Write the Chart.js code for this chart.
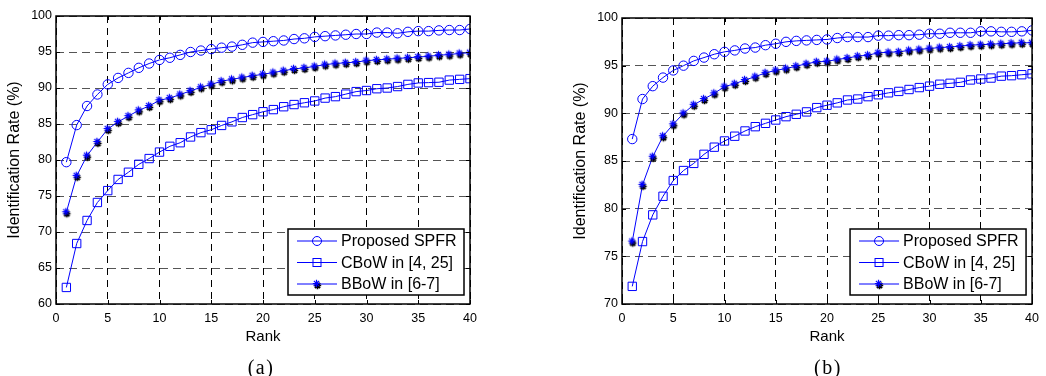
<!DOCTYPE html>
<html>
<head>
<meta charset="utf-8">
<script src="https://cdn.jsdelivr.net/npm/chart.js@4.4.1/dist/chart.umd.min.js"></script>
<style>
  body { margin: 0; background: #fff; width: 1046px; height: 376px; position: relative; overflow: hidden; }
  canvas { position: absolute; top: 0; }
  #chartA { left: 0; }
  #chartB { left: 523px; }
  .cap { position: absolute; top: 356px; line-height: 22px; font: 20px "Liberation Serif", serif; letter-spacing: 1.5px; transform: translateX(-50%); }
</style>
</head>
<body>
<canvas id="chartA" width="523" height="376"></canvas>
<canvas id="chartB" width="523" height="376"></canvas>
<div class="cap" style="left:261px">(a)</div>
<div class="cap" style="left:828px">(b)</div>
<script>
// x values (rank)
const ranks = [1,2,3,4,5,6,7,8,9,10,11,12,13,14,15,16,17,18,19,20,
  21,22,23,24,25,26,27,28,29,30,31,32,33,34,35,36,37,38,39,40];

const seriesNames = ["Proposed SPFR", "CBoW in [4, 25]", "BBoW in [6-7]"];

// panel (a)
const spfrA = [79.7,84.85,87.5,89.1,90.5,91.4,92.1,92.8,93.4,93.9,94.2,94.6,95.0,95.2,95.4,95.6,95.75,96.0,96.3,96.4,
  96.5,96.6,96.8,96.9,97.1,97.2,97.3,97.4,97.5,97.5,97.7,97.7,97.6,97.8,97.9,97.9,98.0,98.05,98.05,98.2];
const cbowA = [62.3,68.4,71.6,74.1,75.75,77.3,78.3,79.4,80.2,81.1,81.9,82.4,83.2,83.8,84.2,84.8,85.3,85.9,86.3,86.7,
  87.0,87.4,87.7,87.95,88.2,88.6,88.8,89.15,89.5,89.65,89.9,90.0,90.2,90.5,90.7,90.75,90.8,91.1,91.2,91.3];
const bbowA = [72.75,77.8,80.6,82.5,84.3,85.3,86.1,86.9,87.5,88.3,88.6,89.1,89.6,90.1,90.5,90.95,91.2,91.45,91.7,91.9,
  92.15,92.4,92.65,92.8,93.0,93.25,93.4,93.5,93.6,93.8,93.9,94.0,94.1,94.2,94.3,94.4,94.55,94.65,94.8,94.9];

// panel (b)
const spfrB = [87.3,91.5,92.85,93.75,94.5,95.0,95.5,95.85,96.2,96.45,96.6,96.8,96.9,97.15,97.3,97.5,97.6,97.65,97.7,97.75,
  97.9,98.0,98.0,98.0,98.15,98.15,98.2,98.2,98.25,98.35,98.35,98.45,98.45,98.45,98.6,98.6,98.55,98.55,98.6,98.7];
const cbowB = [71.85,76.55,79.35,81.3,82.95,84.0,84.75,85.7,86.45,87.1,87.6,88.15,88.6,88.95,89.3,89.65,89.9,90.15,90.6,90.85,
  91.1,91.4,91.5,91.75,91.95,92.15,92.3,92.5,92.7,92.85,93.05,93.15,93.25,93.5,93.6,93.7,93.9,93.95,94.05,94.15];
const bbowB = [76.55,82.5,85.45,87.6,88.85,90.0,90.9,91.5,92.1,92.8,93.1,93.5,93.85,94.25,94.5,94.7,94.95,95.2,95.4,95.45,
  95.65,95.8,96.0,96.1,96.35,96.4,96.45,96.6,96.7,96.8,96.9,96.95,97.05,97.15,97.2,97.25,97.3,97.35,97.4,97.4];

const BLUE = "#0000ff";
const FONT = "'Liberation Sans', Arial, sans-serif";

// blue asterisk with a black shadow, like the matlab figure
function makeStar() {
  const c = document.createElement("canvas");
  c.width = 14; c.height = 14;
  const g = c.getContext("2d");
  function star(cx, cy, color, lw) {
    const r = 3.7, d = r * 0.7071;
    g.strokeStyle = color;
    g.lineWidth = lw;
    g.beginPath();
    g.moveTo(cx - r, cy); g.lineTo(cx + r, cy);
    g.moveTo(cx, cy - r); g.lineTo(cx, cy + r);
    g.moveTo(cx - d, cy - d); g.lineTo(cx + d, cy + d);
    g.moveTo(cx - d, cy + d); g.lineTo(cx + d, cy - d);
    g.stroke();
  }
  star(7.5, 8.5, "#000", 1.7);
  star(6.5, 6.5, BLUE, 1.2);
  return c;
}
const starImg = makeStar();

function pts(vals) {
  return ranks.map((r, i) => ({ x: r, y: vals[i] }));
}

// box, inward ticks and the legend
const framePlugin = {
  id: "frame",
  afterDatasetsDraw(chart) {
    const ctx = chart.ctx;
    const a = chart.chartArea;
    const sx = chart.scales.x, sy = chart.scales.y;
    ctx.save();
    ctx.strokeStyle = "#000";
    ctx.lineWidth = 1;
    ctx.beginPath();
    sx.ticks.forEach(t => {
      const x = Math.round(sx.getPixelForValue(t.value)) + 0.5;
      ctx.moveTo(x, a.bottom); ctx.lineTo(x, a.bottom - 4);
      ctx.moveTo(x, a.top); ctx.lineTo(x, a.top + 4);
    });
    sy.ticks.forEach(t => {
      const y = Math.round(sy.getPixelForValue(t.value)) + 0.5;
      ctx.moveTo(a.left, y); ctx.lineTo(a.left + 4, y);
      ctx.moveTo(a.right, y); ctx.lineTo(a.right - 4, y);
    });
    ctx.stroke();
    ctx.lineWidth = 1.5;
    ctx.strokeRect(a.left, a.top, a.right - a.left, a.bottom - a.top);

    // legend
    const w = 176, h = 66;
    const lx = a.right - 6 - w, ly = a.bottom - 9 - h;
    ctx.fillStyle = "#fff";
    ctx.fillRect(lx, ly, w, h);
    ctx.lineWidth = 1.5;
    ctx.strokeRect(lx, ly, w, h);
    ctx.font = "16px " + FONT;
    ctx.textBaseline = "middle";
    seriesNames.forEach((name, i) => {
      const y = ly + 12 + i * 21.5;
      const mx = lx + 29;
      ctx.strokeStyle = BLUE;
      ctx.lineWidth = 1;
      ctx.beginPath();
      ctx.moveTo(lx + 9, y); ctx.lineTo(lx + 49, y);
      ctx.stroke();
      if (i === 0) {
        ctx.beginPath(); ctx.arc(mx, y, 4.5, 0, Math.PI * 2); ctx.stroke();
      } else if (i === 1) {
        ctx.strokeRect(mx - 4, y - 4, 8, 8);
      } else {
        ctx.drawImage(starImg, mx - 7, y - 7);
      }
      ctx.fillStyle = "#000";
      ctx.fillText(name, lx + 53, y + 1);
    });
    ctx.restore();
  }
};

function makeChart(id, spfr, cbow, bbow, yMin, pad) {
  return new Chart(document.getElementById(id), {
    type: "line",
    data: {
      datasets: [
        {
          label: seriesNames[0],
          data: pts(spfr),
          borderColor: BLUE,
          borderWidth: 1,
          pointStyle: "circle",
          pointRadius: 4.7,
          pointBorderColor: BLUE,
          pointBackgroundColor: "rgba(0,0,0,0)",
          pointBorderWidth: 1,
        },
        {
          label: seriesNames[1],
          data: pts(cbow),
          borderColor: BLUE,
          borderWidth: 1,
          pointStyle: "rect",
          pointRadius: 5.9,
          pointBorderColor: BLUE,
          pointBackgroundColor: "rgba(0,0,0,0)",
          pointBorderWidth: 1,
        },
        {
          label: seriesNames[2],
          data: pts(bbow),
          borderColor: BLUE,
          borderWidth: 1,
          pointStyle: starImg,
          pointRadius: 4,
        },
      ],
    },
    options: {
      responsive: false,
      animation: false,
      layout: { padding: pad },
      scales: {
        x: {
          type: "linear",
          min: 0,
          max: 40,
          afterFit: s => { s.height = 42; },
          ticks: { stepSize: 5, padding: 7, color: "#000", font: { family: FONT, size: 12.5 } },
          grid: { color: "#000", lineWidth: 1, drawTicks: false },
          border: { display: false, dash: [7, 5] },
          title: { display: true, text: "Rank", color: "#000", padding: 0, font: { family: FONT, size: 15 } },
        },
        y: {
          min: yMin,
          max: 100,
          afterFit: s => { s.width = 56; },
          ticks: { stepSize: 5, padding: 4, color: "#000", font: { family: FONT, size: 12.5 } },
          grid: { color: "#555", lineWidth: 1, drawTicks: false },
          border: { display: false, dash: [8, 5] },
          title: { display: true, text: "Identification Rate (%)", color: "#000", padding: { top: 5 }, font: { family: FONT, size: 16 } },
        },
      },
      plugins: {
        legend: { display: false },
        tooltip: { enabled: false },
      },
    },
    plugins: [framePlugin],
  });
}

makeChart("chartA", spfrA, cbowA, bbowA, 60, { left: 0, right: 53, top: 16, bottom: 30 });
makeChart("chartB", spfrB, cbowB, bbowB, 70, { left: 43, right: 11, top: 18, bottom: 30 });
</script>
</body>
</html>
